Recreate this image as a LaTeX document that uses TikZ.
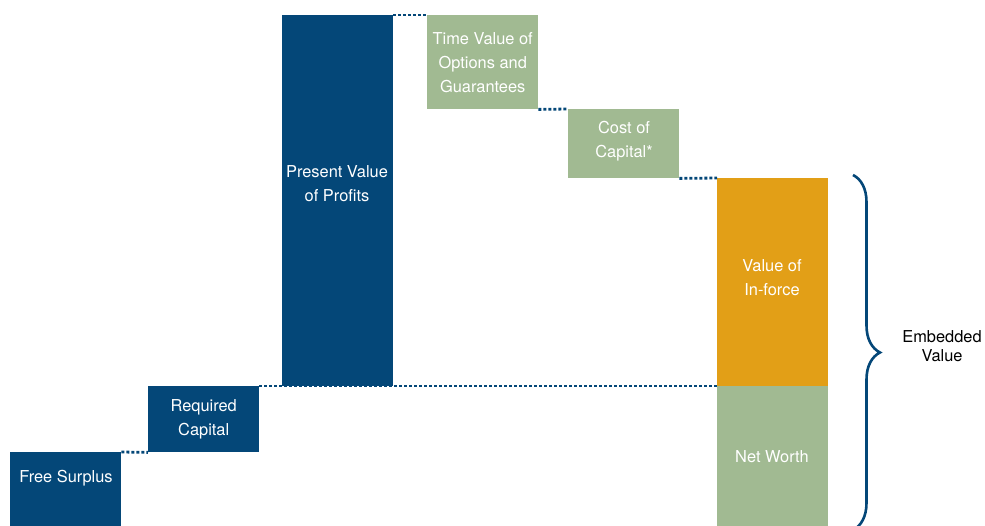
\documentclass[tikz,border=0pt]{standalone}
\usepackage{fontspec}
\setmainfont{TeX Gyre Heros}
\usetikzlibrary{decorations.pathreplacing}

\definecolor{evblue}{RGB}{4,71,120}
\definecolor{evgreen}{RGB}{161,186,146}
\definecolor{evorange}{RGB}{226,159,23}

\tikzset{
  bar/.style = {fill=#1, draw=none, anchor=north west, inner sep=0pt, minimum width=111pt},
  txt/.style = {text=white, align=center, font=\fontsize{16.4}{24}\selectfont},
  link/.style = {draw=evblue, line width=2.8pt, dash pattern=on 3pt off 2pt},
}

\begin{document}
\begin{tikzpicture}[x=1pt, y=-1pt]
				\useasboundingbox (0,0) rectangle (985,526);

				% the bars, left to right
				\node[bar=evblue, minimum height=74pt]  (fs)   at (10,452)  {};
				\node[bar=evblue, minimum height=66pt]  (rc)   at (148,386) {};
				\node[bar=evblue, minimum height=371pt] (pvp)  at (282,15)  {};
				\node[bar=evgreen, minimum height=94pt] (tvog) at (427,15)  {};
				\node[bar=evgreen, minimum height=69pt] (coc)  at (568,109) {};
				\node[bar=evorange, minimum height=208pt] (vif) at (717,178) {};
				\node[bar=evgreen, minimum height=140pt] (nw)  at (717,386) {};

				% labels
				\node[txt] (fslbl)   at (66,478)  {Free Surplus};
				\node[txt] (rclbl)   at (rc.center) {Required\\Capital};
				\node[txt] (pvplbl)  at (337,184) {Present Value\\of Profits};
				\node[txt] (tvoglbl) at (tvog.center) {Time Value of\\Options and\\Guarantees};
				\node[txt] (coclbl)  at (624,141) {Cost of\\Capital*};
				\node[txt] (viflbl)  at (772,278) {Value of\\In-force};
				\node[txt] (nwlbl)   at (772,457) {Net Worth};

				% dotted steps between bars
				\draw[link] (fs.north east) -- (rc.south west);
				\draw[link] (rc.north east) -- (nw.north west);
				\draw[link] (pvp.north east) -- (tvog.north west);
				\draw[link] (tvog.south east) -- (coc.north west);
				\draw[link] (coc.south east) -- (vif.north west);

				% brace round value of in-force and net worth
				\coordinate (btop) at (853,175);
				\coordinate (bbot) at (853,530);
				\draw[evblue, line width=2.6pt, decorate, decoration={brace, amplitude=27pt}] (btop) -- (bbot);
				\node[align=center, font=\fontsize{16.4}{19}\selectfont] (ev) at (942,346) {Embedded\\Value};
			\end{tikzpicture}
\end{document}
